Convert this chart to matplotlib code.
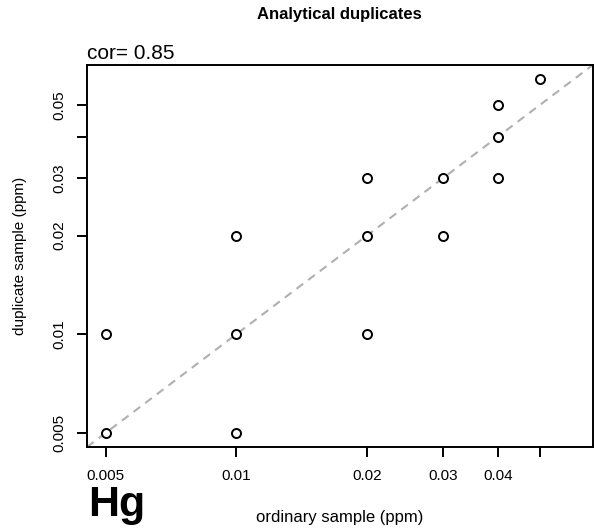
import numpy as np
import matplotlib
matplotlib.use('Agg')
import matplotlib.pyplot as plt
from matplotlib.ticker import FixedLocator, FixedFormatter, NullLocator

plt.rcParams['font.family'] = ['Liberation Sans', 'DejaVu Sans']

# Hg analytical duplicates (ppm)
ordinary = [0.005, 0.005, 0.01, 0.01, 0.01, 0.02, 0.02, 0.02, 0.03, 0.03, 0.04, 0.04, 0.04, 0.05]
duplicate = [0.01, 0.005, 0.02, 0.01, 0.005, 0.03, 0.02, 0.01, 0.03, 0.02, 0.05, 0.04, 0.03, 0.06]
cor_text = 'cor= 0.85'
element = 'Hg'

x_ticks = [0.005, 0.01, 0.02, 0.03, 0.04, 0.05]
x_labels = ['0.005', '0.01', '0.02', '0.03', '0.04', '']
y_ticks = [0.005, 0.01, 0.02, 0.03, 0.04, 0.05]
y_labels = ['0.005', '0.01', '0.02', '0.03', '', '0.05']

fig = plt.figure(figsize=(5.94, 5.28), dpi=100)
ax = fig.add_axes([0.1465, 0.1534, 0.8515, 0.7235])

ax.set_xscale('log')
ax.set_yscale('log')
lo, hi = 0.005 / 1.104, 0.06 * 1.104
ax.set_xlim(lo, hi)
ax.set_ylim(lo, hi)

ax.plot([lo, hi], [lo, hi], color='#b0b0b0', linestyle=(0, (4, 3)), linewidth=1.5, zorder=1)
ax.plot(ordinary, duplicate, linestyle='none', marker='o', markersize=6.5,
        markerfacecolor='white', markeredgecolor='black', markeredgewidth=1.4, zorder=2)

ax.xaxis.set_major_locator(FixedLocator(x_ticks))
ax.xaxis.set_major_formatter(FixedFormatter(x_labels))
ax.xaxis.set_minor_locator(NullLocator())
ax.yaxis.set_major_locator(FixedLocator(y_ticks))
ax.yaxis.set_major_formatter(FixedFormatter(y_labels))
ax.yaxis.set_minor_locator(NullLocator())
ax.tick_params(direction='out', length=7, width=1.4, labelsize=11, pad=9)
ax.tick_params(axis='y', labelrotation=90, pad=8)
for lab in ax.get_yticklabels():
    lab.set_va('center')
for s in ax.spines.values():
    s.set_linewidth(1.4)

ax.set_xlabel('ordinary sample (ppm)', fontsize=12, labelpad=19)
ax.set_ylabel('duplicate sample (ppm)', fontsize=11, labelpad=18)
fig.text(0.572, 0.972, 'Analytical duplicates', ha='center', va='center',
         fontsize=12, fontweight='bold')
ax.text(0.0, 1.005, cor_text, transform=ax.transAxes, ha='left', va='bottom', fontsize=15)
fig.text(0.148, 0.022, element, ha='left', va='baseline', fontsize=31, fontweight='bold')

fig.savefig('out.png', dpi=100)
